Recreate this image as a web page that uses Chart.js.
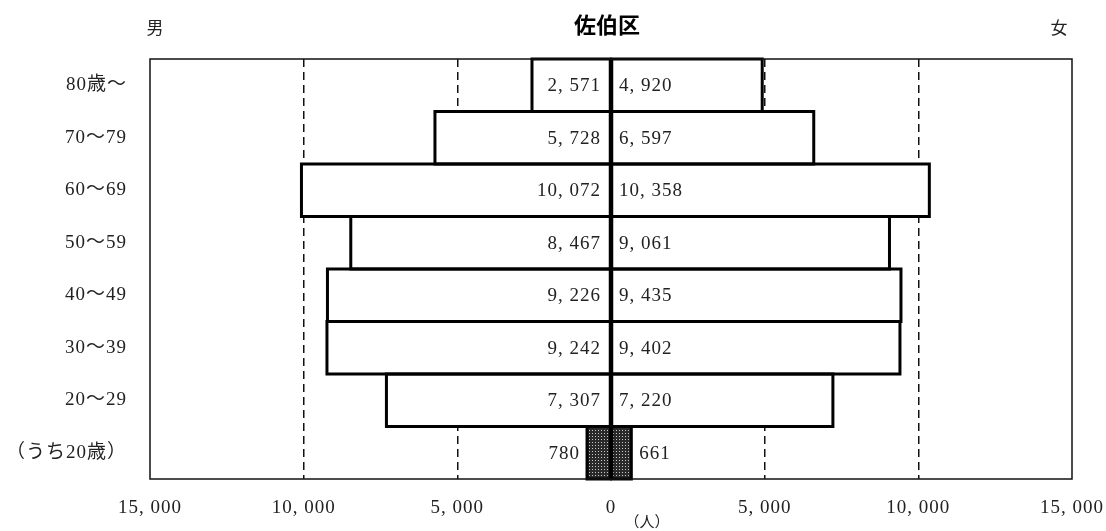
<!DOCTYPE html>
<html>
<head>
<meta charset="utf-8">
<script src="https://cdn.jsdelivr.net/npm/chart.js@4"></script>
<style>
  body { margin: 0; background: #fff; }
  #wrap { width: 1106px; height: 531px; position: relative; }
</style>
</head>
<body>
<div id="wrap"><canvas id="myChart"></canvas></div>
<script>
const ageGroups = ['80歳～', '70～79', '60～69', '50～59', '40～49', '30～39', '20～29', '（うち20歳）'];
const maleCounts = [2571, 5728, 10072, 8467, 9226, 9242, 7307, 780];
const femaleCounts = [4920, 6597, 10358, 9061, 9435, 9402, 7220, 661];
const xTicks = [-15000, -10000, -5000, 0, 5000, 10000, 15000];

const serif = '"Liberation Serif", "Noto Sans CJK JP", serif';

// 数字は「2, 571」の形で表示
function fmt(v) {
  v = Math.abs(v);
  return v.toLocaleString('en-US').replace(/,/g, ', ');
}

// (うち20歳) 用の網掛け
function makeHatch() {
  const c = document.createElement('canvas');
  c.width = 3; c.height = 3;
  const g = c.getContext('2d');
  g.fillStyle = '#2a2a2a';
  g.fillRect(0, 0, 3, 3);
  g.fillStyle = '#c8c8c8';
  g.fillRect(1, 1, 1, 1);
  return g.createPattern(c, 'repeat');
}
const hatch = makeHatch();
const fills = ageGroups.map((a, i) => i === ageGroups.length - 1 ? hatch : '#ffffff');

const extras = {
  id: 'extras',
  beforeDraw(chart) {
    // 明朝風に字間を少し広げる
    chart.ctx.letterSpacing = '1px';
  },
  afterDatasetsDraw(chart) {
    const ctx = chart.ctx;
    const a = chart.chartArea;
    const zero = chart.scales.x.getPixelForValue(0);
    ctx.save();
    // 棒の枠線（線の中心を棒の端に合わせる）
    ctx.strokeStyle = '#000';
    ctx.lineWidth = 3;
    chart.data.datasets.forEach((ds, di) => {
      chart.getDatasetMeta(di).data.forEach(bar => {
        const p = bar.getProps(['x', 'y', 'base', 'height'], true);
        const l = Math.min(p.x, p.base), r = Math.max(p.x, p.base);
        ctx.strokeRect(l, p.y - p.height / 2, r - l, p.height);
      });
    });
    // 数値ラベル（棒が狭いときは棒の外側）
    ctx.font = '19px ' + serif;
    ctx.fillStyle = '#222';
    ctx.textBaseline = 'middle';
    chart.data.datasets.forEach((ds, di) => {
      chart.getDatasetMeta(di).data.forEach((bar, i) => {
        const txt = fmt(ds.data[i]);
        const fits = Math.abs(bar.x - zero) > ctx.measureText(txt).width + 20;
        if (di === 0) {
          ctx.textAlign = 'right';
          ctx.fillText(txt, fits ? zero - 10 : bar.x - 7, bar.y + 1);
        } else {
          ctx.textAlign = 'left';
          ctx.fillText(txt, fits ? zero + 8 : bar.x + 8, bar.y + 1);
        }
      });
    });
    // 枠
    ctx.strokeStyle = '#111';
    ctx.lineWidth = 1.5;
    ctx.strokeRect(a.left, a.top, a.right - a.left, a.bottom - a.top);
    ctx.restore();
  },
  afterDraw(chart) {
    const ctx = chart.ctx;
    ctx.save();
    ctx.letterSpacing = '0px';
    ctx.fillStyle = '#000';
    ctx.textAlign = 'center';
    ctx.textBaseline = 'middle';
    ctx.font = 'bold 22px "Noto Sans CJK JP", sans-serif';
    ctx.fillText('佐伯区', 607, 25);
    ctx.fillStyle = '#222';
    ctx.font = '17px "Noto Sans CJK JP", serif';
    ctx.fillText('男', 155, 28);
    ctx.fillText('女', 1059, 28);
    ctx.font = '15px "Noto Sans CJK JP", serif';
    ctx.fillText('（人）', 647, 521);
    ctx.restore();
  }
};

const ctx1 = document.getElementById('myChart').getContext('2d');
const graph = new Chart(ctx1, {
  type: 'bar',
  data: {
    labels: ageGroups,
    datasets: [{
      label: '男',
      data: maleCounts.map(v => -v),
      backgroundColor: fills,
      borderWidth: 0,
      inflateAmount: 0
    }, {
      label: '女',
      data: femaleCounts,
      backgroundColor: fills,
      borderWidth: 0,
      inflateAmount: 0
    }]
  },
  plugins: [extras],
  options: {
    indexAxis: 'y',
    responsive: true,
    maintainAspectRatio: false,
    animation: false,
    barPercentage: 1,
    categoryPercentage: 1,
    layout: { padding: { top: 59, right: 34, left: 0, bottom: 0 } },
    plugins: {
      legend: { display: false },
      tooltip: { enabled: false }
    },
    scales: {
      x: {
        stacked: true,
        min: -15000,
        max: 15000,
        z: 1,
        afterBuildTicks(scale) {
          scale.ticks = xTicks.map(v => ({ value: v }));
        },
        afterFit(scale) {
          scale.height = 52;
          scale.paddingLeft = 0;
          scale.paddingRight = 0;
        },
        ticks: {
          padding: 18,
          color: '#222',
          font: { family: serif, size: 19 },
          maxRotation: 0,
          callback: v => fmt(v)
        },
        grid: {
          drawTicks: false,
          lineWidth: 1.5,
          color: c => (c.tick && (c.tick.value === 0 || Math.abs(c.tick.value) === 15000)) ? 'rgba(0,0,0,0)' : '#111'
        },
        border: { display: false, dash: [8, 5] }
      },
      y: {
        stacked: true,
        afterFit(scale) { scale.width = 150; },
        ticks: {
          padding: 23,
          color: '#222',
          font: { family: serif, size: 19 }
        },
        grid: { display: false, drawTicks: false },
        border: { display: false }
      }
    }
  }
});
</script>
</body>
</html>
